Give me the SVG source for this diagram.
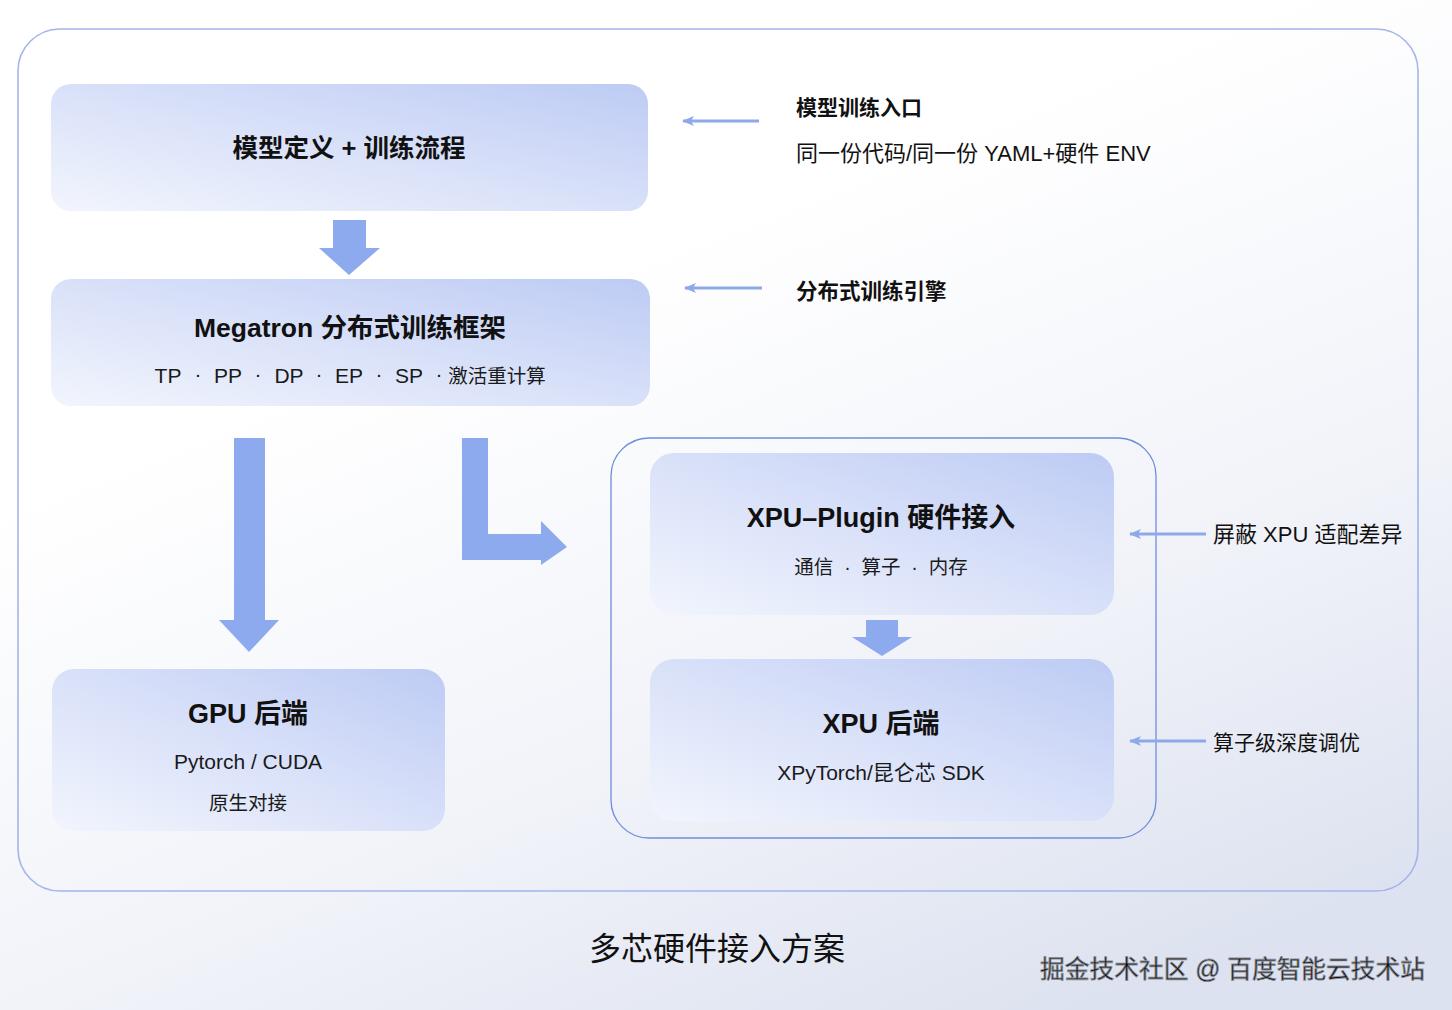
<svg xmlns="http://www.w3.org/2000/svg" width="1452" height="1010" viewBox="0 0 1452 1010">
<defs>
  <linearGradient id="bg" x1="0.35" y1="0.3" x2="0.75" y2="1">
    <stop offset="0" stop-color="#ffffff"/>
    <stop offset="0.55" stop-color="#f1f3f9"/>
    <stop offset="1" stop-color="#dde2f0"/>
  </linearGradient>
  <linearGradient id="nodefill" x1="0" y1="1" x2="1" y2="0">
    <stop offset="0" stop-color="#f2f5fd"/>
    <stop offset="0.5" stop-color="#d9e1f9"/>
    <stop offset="1" stop-color="#bdcbf4"/>
  </linearGradient>
  <marker id="thinhead" viewBox="0 0 12 10" refX="11" refY="5" markerWidth="12" markerHeight="10" markerUnits="userSpaceOnUse" orient="auto">
    <path d="M12,5 L0,0 L3,5 L0,10 Z" fill="#8ea9ea"/>
  </marker>
  <style>
    text { font-family: "Liberation Sans", "Noto Sans CJK SC", sans-serif; fill: #111; }
    .title { font-size: 27px; font-weight: bold; text-anchor: middle; }
    .sub { font-size: 21px; text-anchor: middle; fill: #1a1a1a; }
    .note { font-size: 22px; }
    .noteb { font-size: 21.5px; font-weight: bold; }
    .node { fill: url(#nodefill); }
    .big { fill: #8eaaee; }
    .thin { stroke: #8ea9ea; stroke-width: 3; fill: none; }
  </style>
</defs>

<rect x="0" y="0" width="1452" height="1010" fill="url(#bg)"/>

<rect id="outer" x="18" y="29" width="1400" height="862" rx="42" fill="none" stroke="#a3b5ea" stroke-width="1.6"/>

<g id="node-model">
  <rect class="node" x="51" y="84" width="597" height="127" rx="20"/>
  <text class="title" x="349" y="157" style="font-size:25.5px">模型定义 + 训练流程</text>
</g>

<g id="node-megatron">
  <rect class="node" x="51" y="279" width="599" height="127" rx="20"/>
  <text class="title" x="350" y="337" style="font-size:26.5px">Megatron 分布式训练框架</text>
  <text class="sub" x="168" y="383">TP</text>
  <text class="sub" x="198" y="381">·</text>
  <text class="sub" x="228" y="383">PP</text>
  <text class="sub" x="258" y="381">·</text>
  <text class="sub" x="289" y="383">DP</text>
  <text class="sub" x="319" y="381">·</text>
  <text class="sub" x="349" y="383">EP</text>
  <text class="sub" x="379" y="381">·</text>
  <text class="sub" x="409" y="383">SP</text>
  <text class="sub" x="439" y="381">·</text>
  <text class="sub" x="497" y="383" style="font-size:19.5px">激活重计算</text>
</g>

<g id="node-gpu">
  <rect class="node" x="52" y="669" width="393" height="162" rx="22"/>
  <text class="title" x="248" y="723">GPU 后端</text>
  <text class="sub" x="248" y="769">Pytorch / CUDA</text>
  <text class="sub" x="248" y="810" style="font-size:19.5px">原生对接</text>
</g>

<g id="xpu-group">
  <rect x="611" y="438" width="545" height="400" rx="38" fill="none" stroke="#6f8ddc" stroke-width="1.3"/>
</g>

<g id="node-plugin">
  <rect class="node" x="650" y="453" width="464" height="162" rx="24"/>
  <text class="title" x="881" y="527">XPU–Plugin 硬件接入</text>
  <text class="sub" x="881" y="574" style="font-size:19.5px" xml:space="preserve">通信  ·  算子  ·  内存</text>
</g>

<g id="node-xpu">
  <rect class="node" x="650" y="659" width="464" height="162" rx="24"/>
  <text class="title" x="881" y="733">XPU 后端</text>
  <text class="sub" x="881" y="780">XPyTorch/昆仑芯 SDK</text>
</g>

<g id="labels">
  <text class="noteb" x="796" y="115" style="font-size:21px">模型训练入口</text>
  <text class="note" x="796" y="161">同一份代码/同一份 YAML+硬件 ENV</text>
  <text class="noteb" x="796" y="299">分布式训练引擎</text>
  <text class="note" x="1213" y="542">屏蔽 XPU 适配差异</text>
  <text class="note" x="1213" y="750" style="font-size:21px">算子级深度调优</text>
</g>

<g id="connectors">
  <path class="big" d="M333,220 H366 V248 H380 L349,275 L319,248 H333 Z"/>
  <path class="big" d="M234,438 H265 V620 H279 L249,652 L219,620 H234 Z"/>
  <path class="big" d="M462,438 H488 V534 H541 V521 L567,547 L541,565 V560 H462 Z"/>
  <path class="big" d="M866,620 H898 V637 H912 L882,656 L852,637 H866 Z"/>
  <line class="thin" x1="759" y1="121" x2="683" y2="121" marker-end="url(#thinhead)"/>
  <line class="thin" x1="762" y1="288" x2="685" y2="288" marker-end="url(#thinhead)"/>
  <line class="thin" x1="1206" y1="534" x2="1130" y2="534" marker-end="url(#thinhead)"/>
  <line class="thin" x1="1206" y1="741" x2="1130" y2="741" marker-end="url(#thinhead)"/>
</g>

<text id="caption" x="717" y="960" font-size="32" text-anchor="middle" fill="#111">多芯硬件接入方案</text>
<text id="watermark" x="1040" y="978" font-size="25" textLength="385" lengthAdjust="spacingAndGlyphs" fill="#f4f5f8" stroke="#8a8d96" stroke-width="0.8">掘金技术社区 @ 百度智能云技术站</text>
</svg>
